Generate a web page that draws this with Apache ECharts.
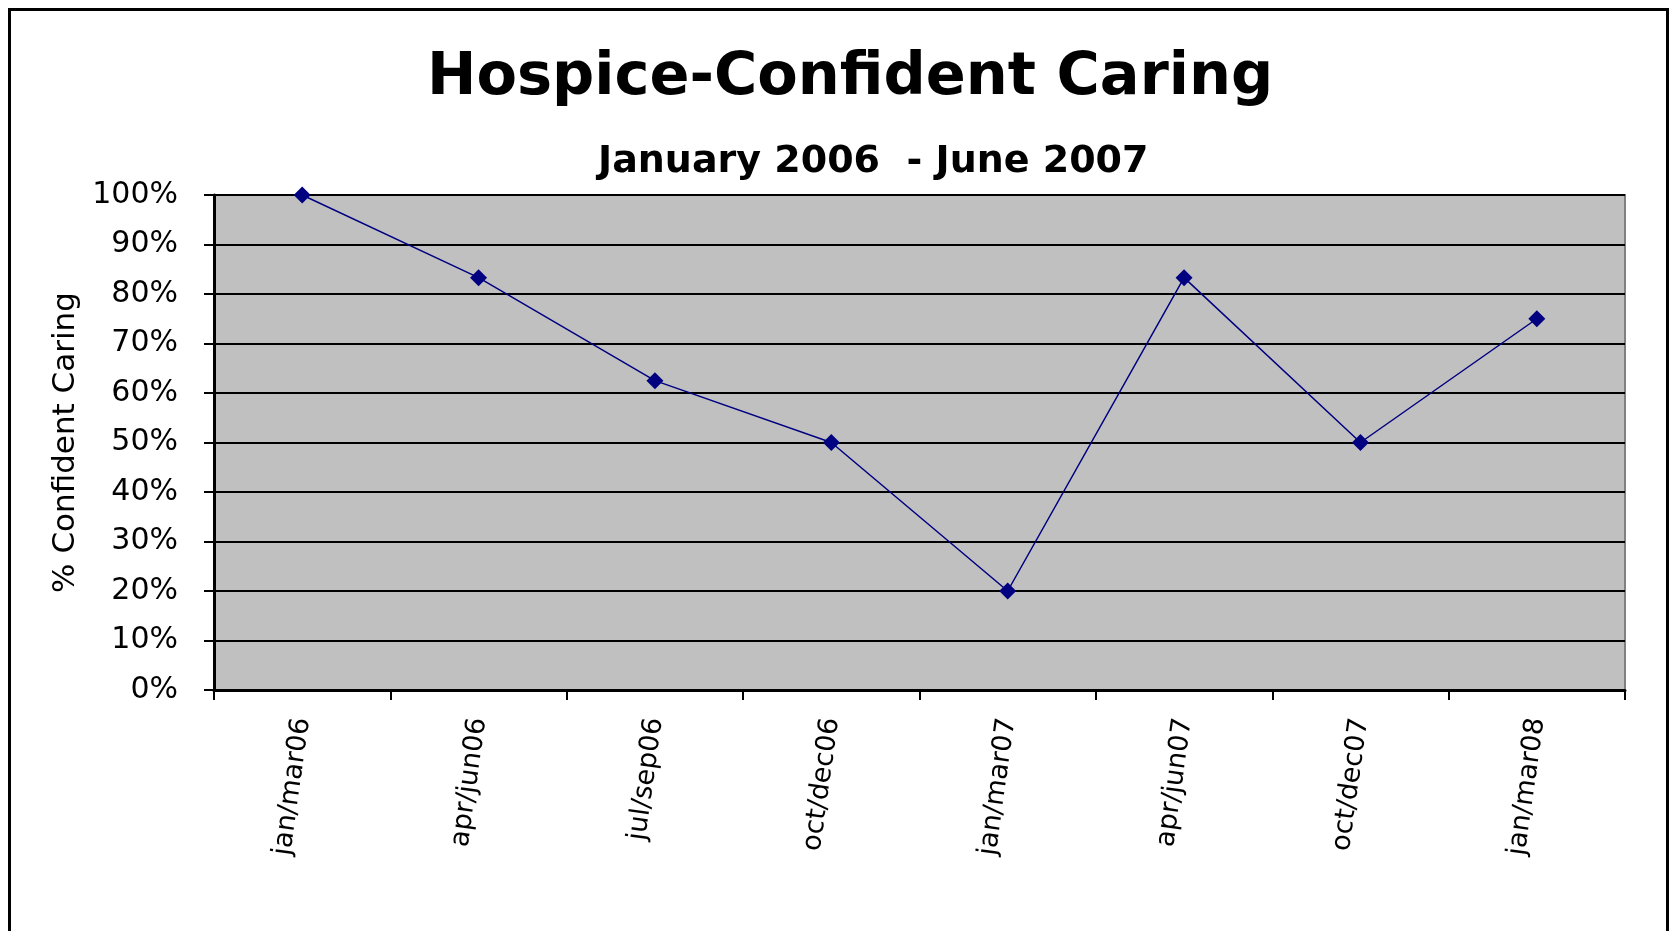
<!DOCTYPE html>
<html>
<head>
<meta charset="utf-8">
<title>Hospice-Confident Caring</title>
<script src="https://cdn.jsdelivr.net/npm/echarts@6/dist/echarts.min.js"></script>
<style>
  html, body { margin: 0; padding: 0; background: #fff; }
  #frame {
    position: absolute; left: 8px; top: 8px; width: 1661px; height: 960px;
    border: 3px solid #000; box-sizing: border-box;
  }
  #chart { position: absolute; left: 0; top: 0; width: 1678px; height: 931px; }
</style>
</head>
<body>
<div id="frame"></div>
<div id="chart"></div>
<script>
// quarters shown on the x axis
const quarters = ['jan/mar06', 'apr/jun06', 'jul/sep06', 'oct/dec06', 'jan/mar07', 'apr/jun07', 'oct/dec07', 'jan/mar08']
// % confident caring per quarter
const confident = [100, 83.3, 62.5, 50, 20, 83.3, 50, 75]

const chart = echarts.init(document.getElementById('chart'))

const option = {
  animation: false,
  backgroundColor: 'transparent',
  title: [ {
    text: 'Hospice-Confident Caring',
    left: 422,
    top: 44,
    textStyle: { fontFamily: 'DejaVu Sans', fontWeight: 'bold', fontSize: 59, color: '#000' },
  }, {
    text: 'January 2006  - June 2007',
    left: 593,
    top: 138,
    textStyle: { fontFamily: 'DejaVu Sans', fontWeight: 'bold', fontSize: 38, color: '#000' },
  } ],
  grid: {
    left: 214,
    right: 53,
    top: 195,
    bottom: 241,
    show: true,
    backgroundColor: '#C0C0C0',
    borderColor: '#808080',
    borderWidth: 2,
  },
  xAxis: {
    type: 'category',
    data: quarters,
    boundaryGap: true,
    axisLine: { lineStyle: { color: '#000', width: 3 } },
    axisTick: { show: true, length: 10, lineStyle: { color: '#000', width: 2 } },
    axisLabel: {
      rotate: 82,
      margin: 28,
      fontFamily: 'DejaVu Sans',
      fontSize: 27,
      color: '#000',
    },
  },
  yAxis: {
    type: 'value',
    min: 0,
    max: 100,
    interval: 10,
    name: '% Confident Caring',
    nameLocation: 'middle',
    nameRotate: 90,
    nameGap: 132,
    nameTextStyle: { fontFamily: 'DejaVu Sans', fontSize: 31, color: '#000' },
    axisLine: { show: true, lineStyle: { color: '#000', width: 3 } },
    axisTick: { show: true, length: 10, lineStyle: { color: '#000', width: 2 } },
    axisLabel: {
      margin: 36,
      fontFamily: 'DejaVu Sans',
      fontSize: 30,
      color: '#000',
      formatter: '{value}%',
    },
    splitLine: { show: true, lineStyle: { color: '#000', width: 2 } },
  },
  series: [ {
    type: 'line',
    data: confident,
    symbol: 'diamond',
    symbolSize: 17,
    lineStyle: { color: '#000080', width: 1.5 },
    itemStyle: { color: '#000080' },
  } ],
}

chart.setOption(option)
</script>
</body>
</html>
